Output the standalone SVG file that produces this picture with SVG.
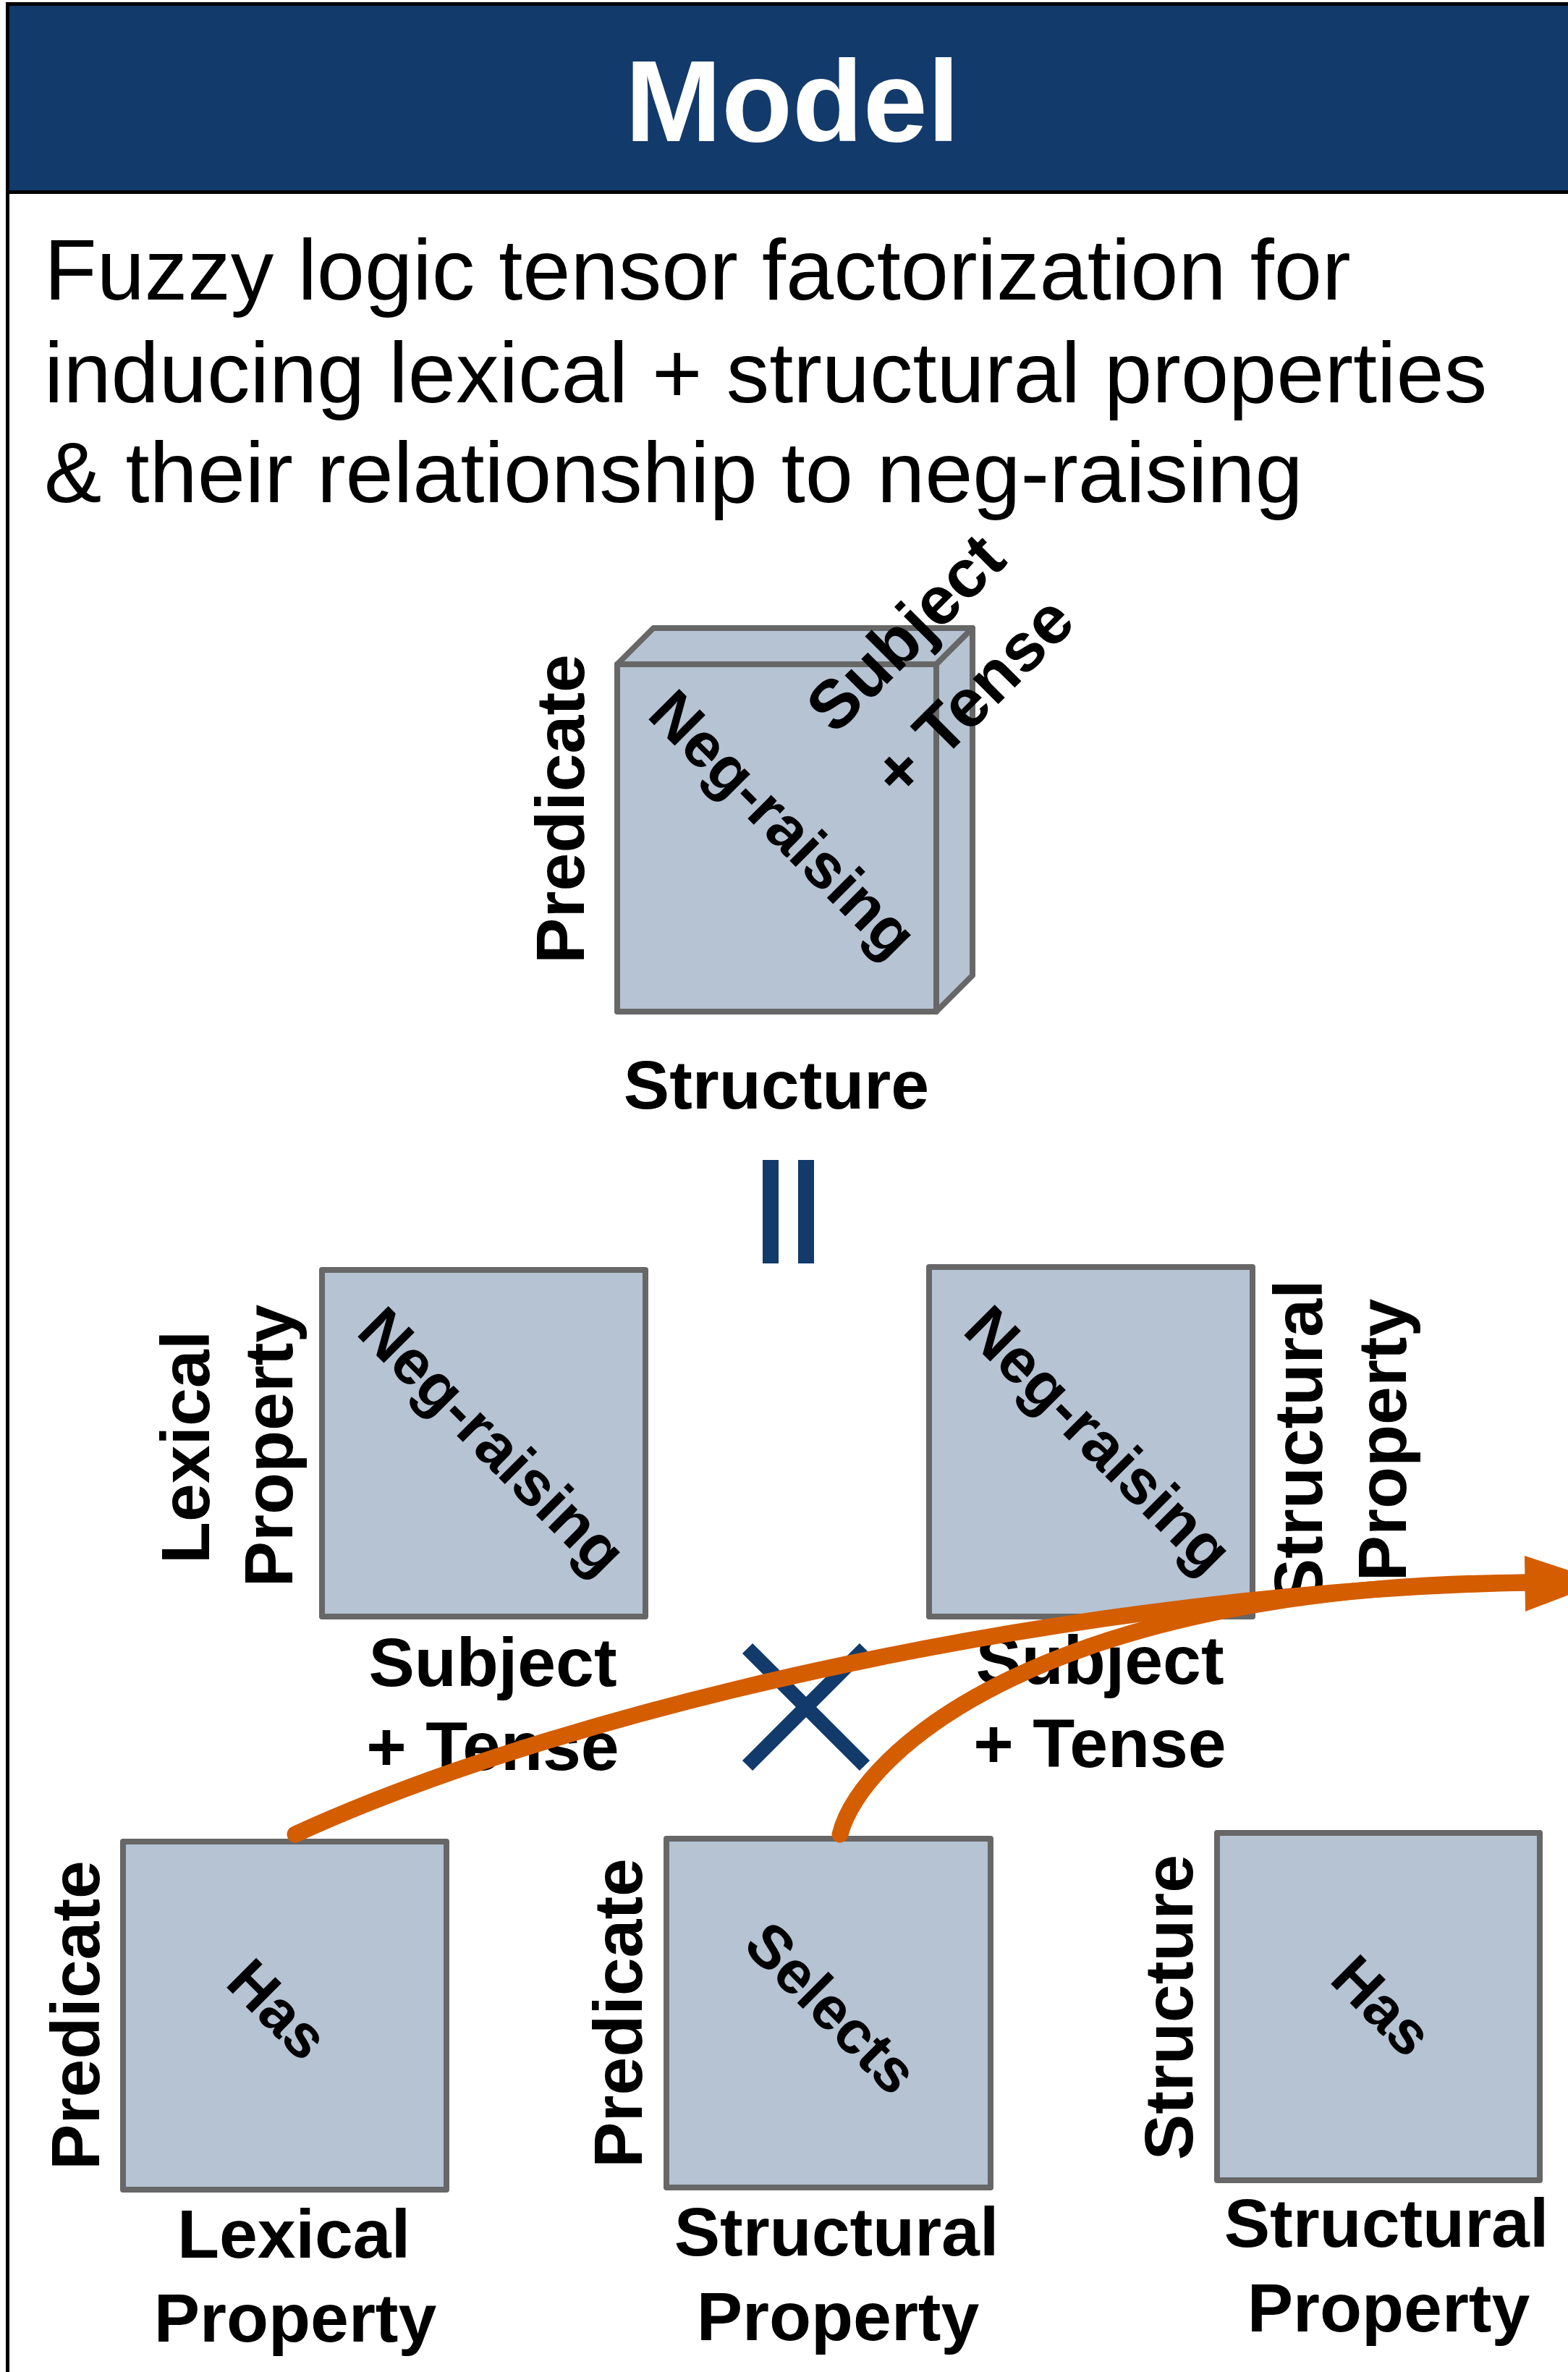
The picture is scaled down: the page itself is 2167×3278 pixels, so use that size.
<svg xmlns="http://www.w3.org/2000/svg" width="2167" height="3278" viewBox="0 0 2167 3278">
<style>
.lbl{font-family:"Liberation Sans",Arial,Helvetica,sans-serif;font-weight:bold;font-size:95px;fill:#000;text-anchor:middle}
.dg{font-size:87px}
.dh{font-size:84px}
.sub{font-family:"Liberation Sans",Arial,Helvetica,sans-serif;font-size:119px;fill:#000}
.mat{fill:#B5C3D3;stroke:#676767;stroke-width:8;stroke-linejoin:round}
.arr{fill:none;stroke:#D45D00;stroke-width:23;stroke-linecap:round}
.blue{stroke:#123A6B;stroke-width:20;fill:none}
</style>
<g id="frame">
<rect x="10.5" y="5.5" width="2300" height="3400" fill="#fff" stroke="#000" stroke-width="5"/>
<rect x="10.5" y="5.5" width="2300" height="260" fill="#123A6B" stroke="#000" stroke-width="5"/>
<text x="1095" y="195" font-family="'Liberation Sans',Arial,Helvetica,sans-serif" font-weight="bold" font-size="160" fill="#fff" text-anchor="middle">Model</text>
</g>
<g id="subtitle">
<text class="sub" x="61" y="414">Fuzzy logic tensor factorization for</text>
<text class="sub" x="61" y="556">inducing lexical + structural properties</text>
<text class="sub" x="61" y="694">&amp; their relationship to neg-raising</text>
</g>
<g id="tensor">
<polygon class="mat" points="853,918 903,868 1344,868 1294,918"/>
<polygon class="mat" points="1294,918 1344,868 1344,1348 1294,1398"/>
<rect class="mat" x="853" y="918" width="441" height="480"/>
<text class="lbl" transform="translate(807,1118) rotate(-90)">Predicate</text>
<text class="lbl dg" transform="translate(1077,1144) rotate(45)" y="22">Neg-raising</text>
<text class="lbl" style="font-size:94px" transform="translate(1255,878) rotate(-45)" y="27">Subject</text>
<text class="lbl" style="font-size:94px" transform="translate(1344,962) rotate(-45)" y="33">+ Tense</text>
<text class="lbl" x="1073" y="1532">Structure</text>
</g>
<g id="equals">
<rect x="1054" y="1603" width="22" height="143" fill="#123A6B"/>
<rect x="1103" y="1603" width="22" height="143" fill="#123A6B"/>
</g>
<g id="lexmatrix">
<rect class="mat" x="445" y="1755" width="447" height="479"/>
<text class="lbl" transform="translate(289,2000) rotate(-90)">Lexical</text>
<text class="lbl" transform="translate(404,1998) rotate(-90)">Property</text>
<text class="lbl dg" transform="translate(675,1997) rotate(45)" y="22">Neg-raising</text>
<text class="lbl" x="681" y="2330">Subject</text>
<text class="lbl" x="681" y="2446">+ Tense</text>
</g>
<g id="structmatrix">
<rect class="mat" x="1284" y="1751" width="447" height="483"/>
<text class="lbl" transform="translate(1827,1993) rotate(-90)">Structural</text>
<text class="lbl" transform="translate(1943,1990) rotate(-90)">Property</text>
<text class="lbl dg" transform="translate(1513,1995) rotate(45)" y="22">Neg-raising</text>
<text class="lbl" x="1520" y="2327">Subject</text>
<text class="lbl" x="1520" y="2442">+ Tense</text>
</g>
<g id="times">
<line class="blue" x1="1033" y1="2278" x2="1195" y2="2440"/>
<line class="blue" x1="1195" y1="2278" x2="1033" y2="2440"/>
</g>
<g id="predlex">
<rect class="mat" x="170" y="2545" width="447" height="481"/>
<text class="lbl" transform="translate(137,2785) rotate(-90)">Predicate</text>
<text class="lbl dh" transform="translate(385,2776) rotate(45)" y="30">Has</text>
<text class="lbl" x="406" y="3120">Lexical</text>
<text class="lbl" x="408" y="3236">Property</text>
</g>
<g id="predstruct">
<rect class="mat" x="921" y="2541" width="448" height="482"/>
<text class="lbl" transform="translate(887,2782) rotate(-90)">Predicate</text>
<text class="lbl dh" transform="translate(1150,2774) rotate(45)" y="30">Selects</text>
<text class="lbl" x="1156" y="3117">Structural</text>
<text class="lbl" x="1158" y="3234">Property</text>
</g>
<g id="structstruct">
<rect class="mat" x="1682" y="2533" width="446" height="480"/>
<text class="lbl" transform="translate(1648,2774) rotate(-90)">Structure</text>
<text class="lbl dh" transform="translate(1911,2771) rotate(45)" y="30">Has</text>
<text class="lbl" x="1916" y="3105">Structural</text>
<text class="lbl" x="1919" y="3222">Property</text>
</g>
<g id="connectors">
<path class="arr" d="M408,2535 C800,2355 1500,2200 2110,2187"/>
<path class="arr" d="M1161,2535 C1190,2420 1450,2190 2110,2187"/>
<polygon points="2107,2150 2216,2186 2108,2227" fill="#D45D00"/>
</g>
</svg>
